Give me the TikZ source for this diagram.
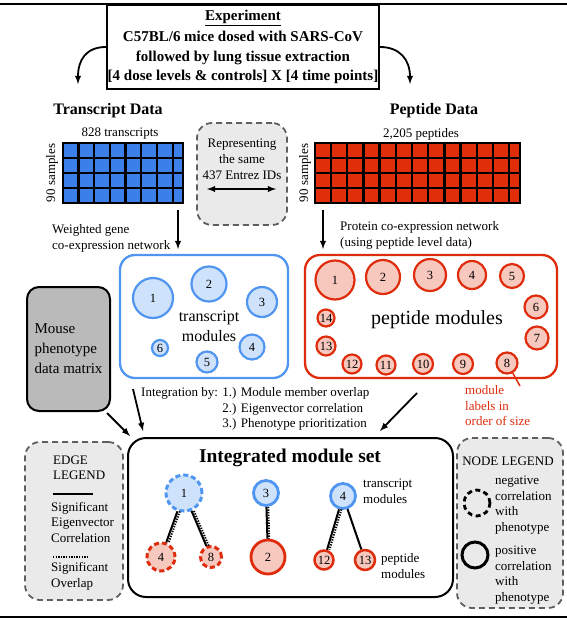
\documentclass[tikz,border=0pt]{standalone}
\usepackage{fontspec}
\setmainfont{Liberation Serif}
\usetikzlibrary{calc}

\definecolor{gridblue}{RGB}{58,128,232}
\definecolor{tblue}{RGB}{80,150,240}
\definecolor{tfill}{RGB}{207,226,251}
\definecolor{gridred}{RGB}{224,46,10}
\definecolor{pred}{RGB}{222,44,12}
\definecolor{pfill}{RGB}{246,200,190}
\definecolor{mgray}{RGB}{186,186,186}
\definecolor{lgray}{RGB}{234,234,234}
\definecolor{dgray}{RGB}{95,95,95}

\begin{document}
\begin{tikzpicture}[x=1pt,y=-1pt,
    txt/.style={inner sep=0pt,align=left,font=\fontsize{13}{15.5}\selectfont},
    tmod/.style={circle,draw=tblue,fill=tfill,line width=2.2pt,inner sep=0pt,font=\fontsize{12.5}{14}\selectfont},
    pmod/.style={circle,draw=pred,fill=pfill,line width=2.2pt,inner sep=0pt,font=\fontsize{12.5}{14}\selectfont},
    negmod/.style={dash pattern=on 5pt off 3pt,line width=3pt},
    arr/.style={-latex,line width=1.8pt},
    legendbox/.style={draw=dgray,fill=lgray,dash pattern=on 6pt off 4pt,line width=1.8pt,rounded corners=15pt},
    eig/.style={line width=2pt},
    ovl/.style={line width=2pt,dash pattern=on 1.3pt off 1.3pt}
]
    \useasboundingbox (0,0) rectangle (567,621);

    % Rules at top and bottom
    \draw[line width=2.8pt] (0,4) -- (567,4);
    \draw[line width=2.8pt] (0,617) -- (567,617);

    % Experiment box
    \node[draw,line width=2pt,fill=white,minimum width=272pt,minimum height=84pt,inner sep=0pt,align=center,
          font=\bfseries\fontsize{15}{19.5}\selectfont] (expt) at (243,47)
          {\underline{Experiment}\\[2pt]C57BL/6 mice dosed with SARS-CoV\\followed by lung tissue extraction\\{[4 dose levels \& controls] X [4 time points]}};
    \coordinate (tdl) at (78,84);
    \coordinate (pdl) at (410,84);
    \draw[arr] (expt.west) .. controls (86,47) and (78,60) .. (tdl);
    \draw[arr] (expt.east) .. controls (400,47) and (410,60) .. (pdl);

    % Data headers
    \node[font=\bfseries\fontsize{16}{18}\selectfont] (thead) at (108,111) {Transcript Data};
    \node[font=\bfseries\fontsize{16}{18}\selectfont] (phead) at (434,111) {Peptide Data};
    \node[txt] (tcount) at (120,134) {828 transcripts};
    \node[txt] (pcount) at (421,134) {2,205 peptides};
    \node[txt,rotate=90] (tsamp) at (52,173) {90 samples};
    \node[txt,rotate=90] (psamp) at (305,173) {90 samples};

    % Transcript grid
    \node[fill=gridblue,minimum width=120pt,minimum height=60pt,inner sep=0pt] (tgrid) at (123,173) {};
    \foreach \i in {1,...,7}
        \draw[line width=2.3pt] ($(tgrid.north west)+(15.7*\i,0)$) -- ($(tgrid.south west)+(15.7*\i,0)$);
    \foreach \j in {1,2,3}
        \draw[line width=2.3pt] ($(tgrid.north west)+(0,15*\j)$) -- ($(tgrid.north east)+(0,15*\j)$);
    \draw[line width=2.5pt] (tgrid.north west) rectangle (tgrid.south east);

    % Peptide grid
    \node[fill=gridred,minimum width=205pt,minimum height=60pt,inner sep=0pt] (pgrid) at (417.5,173) {};
    \foreach \i in {1,...,12}
        \draw[line width=2.3pt] ($(pgrid.north west)+(16.2*\i,0)$) -- ($(pgrid.south west)+(16.2*\i,0)$);
    \foreach \j in {1,2,3}
        \draw[line width=2.3pt] ($(pgrid.north west)+(0,15*\j)$) -- ($(pgrid.north east)+(0,15*\j)$);
    \draw[line width=2.5pt] (pgrid.north west) rectangle (pgrid.south east);

    % Same Entrez IDs
    \node[legendbox,minimum width=90pt,minimum height=102pt] (same) at (242,174) {};
    \node[txt,align=center,font=\fontsize{13}{16}\selectfont] (sametxt) at (242,159) {Representing\\the same\\437 Entrez IDs};
    \coordinate (sl) at (207,189);
    \coordinate (sr) at (276,189);
    \draw[latex-latex,line width=1.8pt] (sl) -- (sr);

    % Network arrows
    \coordinate (ta) at (178,210);
    \coordinate (tb) at (178,249);
    \coordinate (pa) at (323,210);
    \coordinate (pb) at (323,249);
    \draw[arr] (ta) -- (tb);
    \draw[arr] (pa) -- (pb);
    \node[txt,anchor=west] (tnet) at (52,238.5) {Weighted gene\\co-expression network};
    \node[txt,anchor=west] (pnet) at (340,235.5) {Protein co-expression network\\(using peptide level data)};

    % Module boxes
    \node[draw=tblue,line width=2.3pt,rounded corners=15pt,minimum width=168pt,minimum height=123pt] (tmods) at (204,316.5) {};
    \node[draw=pred,line width=2.3pt,rounded corners=15pt,minimum width=252pt,minimum height=123pt] (pmods) at (431,316.5) {};
    \node[align=center,inner sep=0pt,font=\fontsize{16}{20}\selectfont] (tmodtxt) at (209,326) {transcript\\modules};
    \node[inner sep=0pt,font=\fontsize{20}{22}\selectfont] (pmodtxt) at (437,320) {peptide modules};

    \foreach \n/\x/\y/\r in {1/153/298/20, 2/209/284/17.5, 3/262/302/15, 4/252/347/12.5, 5/207/362/10.5, 6/160/348/8}
        \node[tmod,minimum size={2*\r*1pt}] (tm\n) at (\x,\y) {\n};
    \foreach \n/\x/\y/\r in {1/335/280/19.5, 2/383/277/17, 3/430/275/16, 4/472/275/14, 5/512/276/12,
                             6/536/307/11.5, 7/537/338/11.5, 8/507/363/10.5, 9/463/364/10, 10/423/364/10,
                             11/386/365/9.5, 12/352/364/9.5, 13/326/346/9.5, 14/326/318/8.5}
        \node[pmod,minimum size={2*\r*1pt}] (pm\n) at (\x,\y) {\n};

    % Size label
    \coordinate (lblend) at (520,386);
    \draw[pred,line width=1.5pt] (pm8.-60) -- (lblend);
    \node[txt,anchor=west,text=pred] (sizelbl) at (465,406) {module\\labels in\\order of size};

    % Mouse phenotype
    \node[draw,fill=mgray,line width=2pt,rounded corners=12pt,minimum width=83pt,minimum height=124pt,
          align=left,font=\fontsize{15}{20}\selectfont] (mouse) at (68.5,349) {Mouse\\phenotype\\data matrix};

    % Integration
    \node[txt,anchor=west] (integtxt) at (141,409)
        {Integration by: 1.) Module member overlap\\\phantom{Integration by: }2.) Eigenvector correlation\\\phantom{Integration by: }3.) Phenotype prioritization};
    \node[draw,line width=2pt,rounded corners=18pt,minimum width=325pt,minimum height=159pt] (integ) at (290.5,517.5) {};
    \node[font=\bfseries\fontsize{19.5}{22}\selectfont] (integhead) at (290,458) {Integrated module set};

    \coordinate (ma) at (107,413);
    \coordinate (mb) at (130,436);
    \coordinate (xa) at (133,389);
    \coordinate (xb) at (143,431);
    \coordinate (ya) at (417,393);
    \coordinate (yb) at (380,431);
    \draw[arr] (ma) -- (mb);
    \draw[arr] (xa) -- (xb);
    \draw[arr] (ya) -- (yb);

    % Integrated modules
    \node[tmod,negmod,minimum size=36pt] (iT1) at (184,493) {1};
    \node[pmod,negmod,minimum size=28pt] (iP4) at (161,557) {4};
    \node[pmod,negmod,minimum size=21pt] (iP8) at (211,557) {8};
    \node[tmod,line width=2.8pt,minimum size=25pt] (iT3) at (266,493) {3};
    \node[pmod,line width=2.8pt,minimum size=34pt] (iP2) at (268,557) {2};
    \node[tmod,line width=2.8pt,minimum size=25pt] (iT4) at (343,496) {4};
    \node[pmod,line width=2.5pt,minimum size=19pt] (iP12) at (324,560) {12};
    \node[pmod,line width=2.5pt,minimum size=20pt] (iP13) at (365,560) {13};

    \draw[eig] (iT1) -- (iP4);
    \draw[ovl,transform canvas={xshift=2.4pt}] (iT1) -- (iP4);
    \draw[eig] (iT1) -- (iP8);
    \draw[ovl,transform canvas={xshift=2.4pt}] (iT1) -- (iP8);
    \draw[eig] (iT3) -- (iP2);
    \draw[ovl,transform canvas={xshift=1.8pt}] (iT3) -- (iP2);
    \draw[eig] (iT4) -- (iP12);
    \draw[ovl,transform canvas={xshift=2.4pt}] (iT4) -- (iP12);
    \draw[eig] (iT4) -- (iP13);

    \node[txt,anchor=west] (itlbl) at (363,491.5) {transcript\\modules};
    \node[txt,anchor=west] (iplbl) at (381,566) {peptide\\modules};

    % Edge legend
    \node[legendbox,minimum width=98pt,minimum height=158pt] (elegend) at (74,521) {};
    \node[txt,anchor=west] (elhead) at (53,468) {EDGE\\LEGEND};
    \draw[line width=2pt] (53,494) -- (93,494);
    \node[txt,anchor=west] (eleig) at (51,522) {Significant\\Eigenvector\\Correlation};
    \draw[line width=2pt,dash pattern=on 1.3pt off 1.3pt] (53,557) -- (89,557);
    \node[txt,anchor=west] (elovl) at (51,576.5) {Significant\\Overlap};

    % Node legend
    \node[legendbox,minimum width=106pt,minimum height=170pt] (nlegend) at (510,523) {};
    \node[txt] (nlhead) at (508,461) {NODE LEGEND};
    \node[circle,draw,dash pattern=on 5pt off 3.5pt,line width=2.8pt,minimum size=26pt] (negc) at (477,503) {};
    \node[circle,draw,line width=3pt,minimum size=26pt] (posc) at (475,555) {};
    \node[txt,anchor=west] (negtxt) at (495,505) {negative\\correlation\\with\\phenotype};
    \node[txt,anchor=west] (postxt) at (495,575) {positive\\correlation\\with\\phenotype};
\end{tikzpicture}
\end{document}
